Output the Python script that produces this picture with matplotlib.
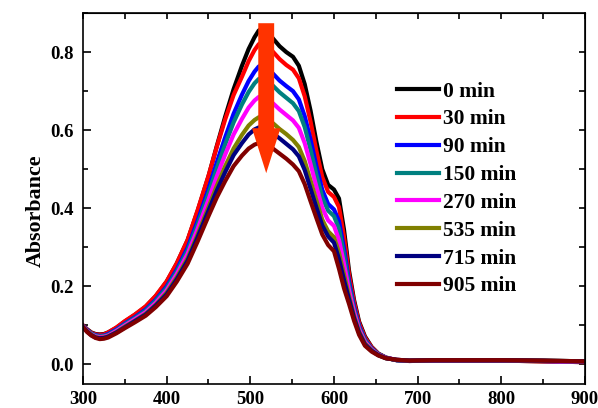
import matplotlib
matplotlib.use("Agg")
import matplotlib.pyplot as plt
from matplotlib.patches import FancyArrow
from matplotlib.ticker import MultipleLocator

# wavelength grid (nm)
wavelength = [300, 305, 310, 315, 320, 325, 330, 340, 350, 362, 375, 387, 400, 412, 425, 437,
              450, 460, 470, 480, 490, 498, 505, 510, 515, 520, 527, 535, 543, 551, 558, 565,
              572, 579, 586, 593, 600, 606, 612, 618, 624, 630, 637, 645, 653, 662, 675, 690,
              720, 760, 800, 850, 900]

abs_0 = [.100, .090, .082, .078, .077, .078, .082, .094, .110, .127, .148, .175, .212, .258, .318, .393,
         .482, .560, .635, .705, .765, .808, .838, .855, .862, .855, .835, .815, .800, .788, .765, .718,
         .650, .570, .500, .460, .448, .425, .345, .240, .165, .110, .072, .045, .028, .018, .011, .009,
         .010, .010, .010, .008, .006]
abs_30 = [.100, .089, .081, .077, .076, .077, .082, .095, .111, .128, .149, .176, .213, .259, .319, .395,
          .483, .558, .628, .690, .737, .777, .805, .820, .827, .820, .801, .782, .767, .755, .733, .687,
          .622, .547, .480, .442, .429, .403, .327, .230, .159, .106, .069, .044, .027, .017, .011, .009,
          .010, .010, .010, .008, .006]
abs_90 = [.098, .088, .079, .075, .073, .074, .078, .090, .105, .121, .141, .166, .200, .243, .299, .368,
          .449, .518, .582, .642, .691, .726, .750, .763, .768, .762, .745, .727, .713, .700, .679, .636,
          .576, .508, .447, .411, .397, .367, .297, .213, .148, .099, .064, .041, .026, .017, .011, .009,
          .010, .010, .010, .009, .007]
abs_150 = [.098, .087, .079, .074, .072, .073, .076, .088, .103, .119, .138, .163, .196, .238, .292, .359,
           .438, .503, .564, .620, .666, .698, .720, .731, .735, .729, .714, .697, .683, .669, .649, .608,
           .550, .486, .428, .394, .380, .348, .281, .203, .142, .095, .062, .040, .026, .017, .011, .010,
           .011, .011, .011, .009, .007]
abs_270 = [.097, .086, .077, .072, .070, .071, .074, .086, .100, .116, .134, .158, .190, .231, .283, .347,
           .422, .482, .538, .589, .629, .658, .676, .685, .688, .683, .669, .653, .639, .625, .606, .567,
           .513, .455, .401, .369, .355, .319, .257, .190, .134, .090, .058, .038, .025, .017, .012, .010,
           .011, .011, .011, .009, .007]
abs_535 = [.096, .085, .076, .070, .068, .069, .072, .083, .097, .112, .130, .153, .184, .223, .272, .333,
           .403, .458, .508, .553, .588, .612, .626, .633, .635, .630, .618, .603, .590, .575, .557, .521,
           .471, .420, .371, .341, .326, .286, .230, .175, .124, .084, .054, .036, .024, .016, .012, .010,
           .011, .011, .011, .010, .008]
abs_715 = [.096, .084, .075, .069, .067, .068, .071, .082, .095, .111, .128, .151, .180, .218, .266, .326,
           .394, .446, .493, .536, .567, .589, .602, .607, .608, .604, .592, .579, .565, .551, .533, .498,
           .450, .402, .356, .328, .312, .270, .216, .167, .119, .081, .051, .035, .024, .016, .012, .010,
           .011, .011, .011, .010, .008]
abs_905 = [.095, .083, .074, .068, .065, .066, .069, .080, .093, .108, .125, .147, .175, .212, .258, .315,
           .380, .428, .470, .508, .535, .553, .563, .567, .567, .563, .553, .540, .527, .512, .495, .462,
           .418, .375, .333, .306, .290, .245, .195, .155, .112, .076, .048, .033, .023, .016, .012, .010,
           .011, .011, .011, .010, .008]

labels = ["0 min", "30 min", "90 min", "150 min", "270 min", "535 min", "715 min", "905 min"]
colors = ["#000000", "#ff0000", "#0000ff", "#008080", "#ff00ff", "#808000", "#000080", "#800000"]
series = [abs_0, abs_30, abs_90, abs_150, abs_270, abs_535, abs_715, abs_905]

plt.rcParams["font.family"] = ["Liberation Serif", "DejaVu Serif"]
plt.rcParams["font.weight"] = "bold"

fig = plt.figure(figsize=(5.98, 4.08), dpi=100)
ax = fig.add_axes([0.1388, 0.0588, 0.8394, 0.9092])

for y, c, lab in zip(series, colors, labels):
    ax.plot(wavelength, y, color=c, lw=3, label=lab, solid_joinstyle="round")

# big arrow showing the decrease
arrow = FancyArrow(519, 0.874, 0, -0.384, width=19, head_width=34, head_length=0.115,
                   length_includes_head=True, color="#ff3300", lw=0, zorder=5)
ax.add_patch(arrow)

ax.set_xlim(300, 900)
ax.set_ylim(-0.05, 0.9)
ax.xaxis.set_major_locator(MultipleLocator(100))
ax.xaxis.set_minor_locator(MultipleLocator(50))
ax.yaxis.set_major_locator(MultipleLocator(0.2))
ax.yaxis.set_minor_locator(MultipleLocator(0.1))
ax.tick_params(which="major", direction="in", length=6, width=1.2, labelsize=13.5)
ax.tick_params(which="minor", direction="in", length=3.5, width=1.2)
ax.tick_params(axis="x", which="major", pad=5)
ax.tick_params(axis="y", which="major", pad=7)
ax.set_yticks([0.0, 0.2, 0.4, 0.6, 0.8])
ax.set_yticklabels(["0.0", "0.2", "0.4", "0.6", "0.8"])
for s in ax.spines.values():
    s.set_linewidth(1.2)

top = ax.secondary_xaxis("top")
top.set_ticks(range(300, 901, 50))
top.tick_params(direction="in", length=4, width=1.2, labeltop=False)
right = ax.secondary_yaxis("right")
right.set_ticks([0.0, 0.1, 0.2, 0.3, 0.4, 0.5, 0.6, 0.7, 0.8])
right.tick_params(direction="in", length=4, width=1.2, labelright=False)

ax.set_ylabel("Absorbance", fontsize=15.8, fontweight="bold")
ax.yaxis.set_label_coords(-0.074, 0.466)

ax.legend(loc="upper left", bbox_to_anchor=(0.664, 0.800), bbox_transform=fig.transFigure,
          frameon=False, fontsize=15.5, handlelength=1.95, handletextpad=0.2,
          labelspacing=0.36, borderpad=0, borderaxespad=0)

fig.savefig("out.png", dpi=100)
